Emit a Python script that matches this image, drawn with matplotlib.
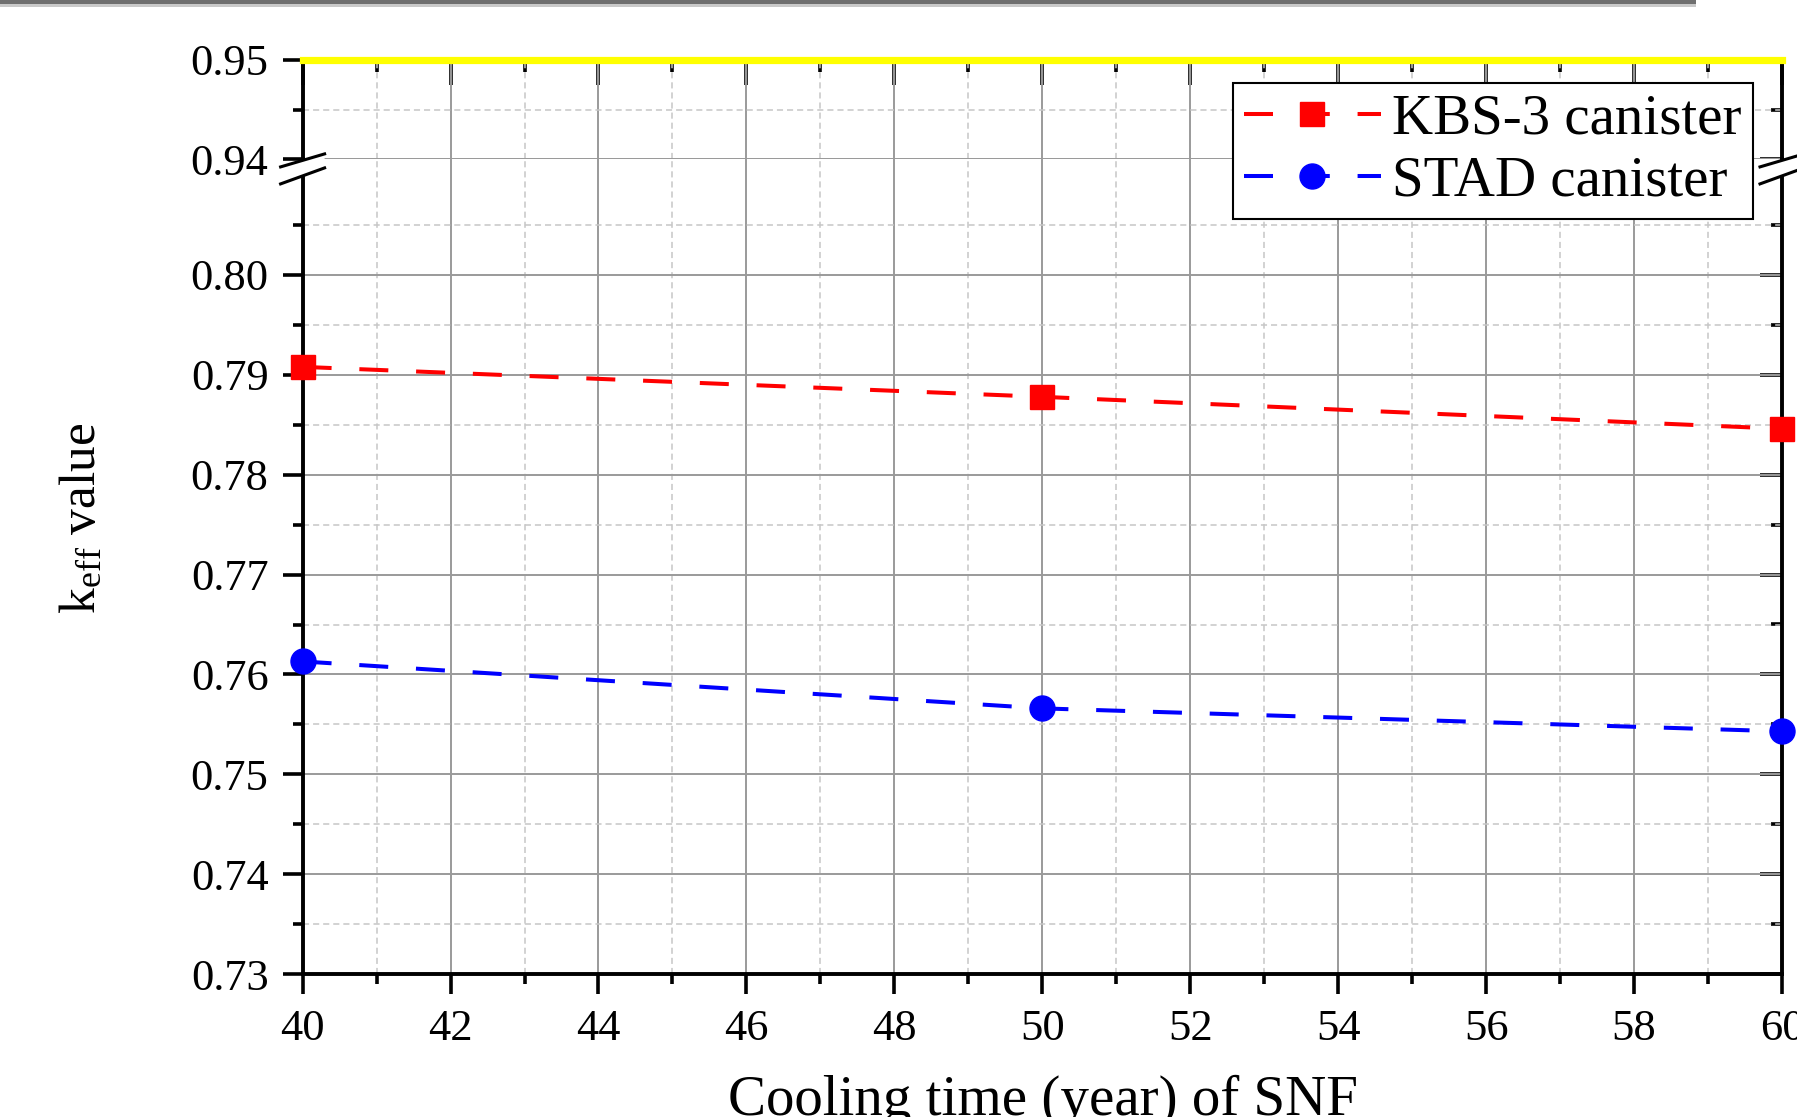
import numpy as np
import matplotlib
matplotlib.use("Agg")
import matplotlib.pyplot as plt
from matplotlib.ticker import FixedLocator, FormatStrFormatter
from matplotlib.patches import Polygon, Rectangle
from matplotlib.lines import Line2D

plt.rcParams['font.family'] = ['Liberation Serif', 'DejaVu Serif']
plt.rcParams['mathtext.fontset'] = 'custom'
plt.rcParams['mathtext.rm'] = 'Liberation Serif'
plt.rcParams['mathtext.it'] = 'Liberation Serif:italic'

# data
cooling_years = [40, 50, 60]
keff_kbs3 = [0.7908, 0.7878, 0.7846]
keff_stad = [0.7613, 0.7566, 0.7543]
label_kbs3 = 'KBS-3 canister'
label_stad = 'STAD canister'

x_major = np.arange(40, 61, 2)
x_minor = np.arange(41, 60, 2)
y_low_major = np.round(np.arange(0.73, 0.8001, 0.01), 3)
y_low_minor = np.round(np.arange(0.735, 0.8051, 0.01), 3)
y_high_major = [0.94, 0.95]
y_high_minor = [0.945]

W, H = 1797, 1117
fig = plt.figure(figsize=(W / 100, H / 100), dpi=100)

# layout (pixels from top-left)
left, right = 302.6, 1782.0
y095, y094, y073 = 59.6, 159.4, 974.0
px_per_001 = (y073 - 275.0) / 7.0

ax_top = fig.add_axes([left / W, 1 - y094 / H, (right - left) / W, (y094 - y095) / H])
ax_bot = fig.add_axes([left / W, 1 - y073 / H, (right - left) / W, (y073 - y094) / H])

ax_top.set_ylim(0.94, 0.95)
ax_bot.set_ylim(0.73, 0.73 + 0.01 * (y073 - y094) / px_per_001)

major_grid = dict(color='#9a9a9a', lw=1.4, ls='-')
minor_grid = dict(color='#c6c6c6', lw=1.1, ls=(0, (4, 2.6)))

for ax, ymaj, ymin in ((ax_top, y_high_major, y_high_minor),
                       (ax_bot, y_low_major, y_low_minor)):
    ax.set_xlim(40, 60)
    ax.xaxis.set_major_locator(FixedLocator(x_major))
    ax.xaxis.set_minor_locator(FixedLocator(x_minor))
    ax.yaxis.set_major_locator(FixedLocator(ymaj))
    ax.yaxis.set_minor_locator(FixedLocator(ymin))
    ax.yaxis.set_major_formatter(FormatStrFormatter('%.2f'))
    ax.grid(True, which='major', **major_grid)
    ax.grid(True, which='minor', **minor_grid)
    ax.tick_params(which='major', length=14.5, width=2.6, direction='out',
                   labelsize=32, pad=10, colors='black')
    ax.tick_params(which='minor', length=7.2, width=2.6, direction='out')
    for s in ax.spines.values():
        s.set_linewidth(2.8)
        s.set_color('black')

    # inward ticks on the right side
    sec = ax.secondary_yaxis('right')
    sec.yaxis.set_major_locator(FixedLocator(ymaj))
    sec.yaxis.set_minor_locator(FixedLocator(ymin))
    sec.tick_params(which='major', length=16, width=2.6, direction='in', labelright=False)
    sec.tick_params(which='minor', length=8, width=2.6, direction='in')
    for s in sec.spines.values():
        s.set_visible(False)

# top segment
ax_top.spines['bottom'].set_visible(False)
ax_top.spines['top'].set_color('#ffff00')
ax_top.spines['top'].set_linewidth(5.2)
ax_top.tick_params(axis='x', which='both', bottom=False, labelbottom=False)
ax_top.axhline(0.94, clip_on=False, zorder=1, **major_grid)
sec_top = ax_top.secondary_xaxis('top')
sec_top.xaxis.set_major_locator(FixedLocator(x_major))
sec_top.xaxis.set_minor_locator(FixedLocator(x_minor))
sec_top.tick_params(which='major', length=18, width=2.6, direction='in', labeltop=False)
sec_top.tick_params(which='minor', length=8.5, width=2.6, direction='in')
for s in sec_top.spines.values():
    s.set_visible(False)

# bottom segment
ax_bot.spines['top'].set_visible(False)
ax_bot.tick_params(axis='x', which='both', top=False)
ax_bot.tick_params(axis='x', which='major', pad=11)

ax_bot.plot(cooling_years, keff_kbs3, color='#ff0000', lw=2.9, dashes=(7.2, 6.9),
            marker='s', ms=17, mec='#ff0000', clip_on=False, zorder=4, label=label_kbs3)
ax_bot.plot(cooling_years, keff_stad, color='#0000ff', lw=2.9, dashes=(7.2, 6.9),
            marker='o', ms=18, mec='#0000ff', clip_on=False, zorder=4, label=label_stad)

# break marks on both spines
dx = 22.0 / (right - left)
u = 1.0 / (y094 - y095)
for xa in (0.0, 1.0):
    gap = Polygon([(xa - dx, -7.5 * u), (xa + dx, 5.5 * u),
                   (xa + dx, -8.5 * u), (xa - dx, -24.5 * u)],
                  closed=True, facecolor='white', edgecolor='none',
                  transform=ax_top.transAxes, zorder=6)
    fig.add_artist(gap)
    for y0, y1 in ((-7.5, 5.5), (-24.5, -8.5)):
        fig.add_artist(Line2D([xa - dx, xa + dx], [y0 * u, y1 * u], color='black',
                              lw=2.2, transform=ax_top.transAxes, zorder=7))

# legend
handles, labels = ax_bot.get_legend_handles_labels()
leg = fig.legend(handles, labels, loc='upper right',
                 bbox_to_anchor=(1753 / W, 1 - 82.5 / H), frameon=True,
                 fancybox=False, edgecolor='black', framealpha=1, fontsize=41,
                 handlelength=2.4, handletextpad=0.2, borderpad=0.2,
                 labelspacing=0.17, borderaxespad=0, numpoints=1)
leg.get_frame().set_linewidth(1.5)
leg.set_zorder(8)

# axis titles
fig.text(1043 / W, 1 - 1115 / H, 'Cooling time (year) of SNF', ha='center',
         va='baseline', fontsize=41)
fig.text(83 / W, 1 - 518 / H, r'k$_{\mathrm{eff}}$ value', rotation=90,
         ha='center', va='center', fontsize=37)

# grey bar along the top edge of the page
fig.add_artist(Rectangle((0, 1 - 7 / H), 1696 / W, 7 / H, transform=fig.transFigure,
                         facecolor='#c9c9c9', edgecolor='none', zorder=9))
fig.add_artist(Rectangle((0, 1 - 4 / H), 1696 / W, 4 / H, transform=fig.transFigure,
                         facecolor='#6f6f6f', edgecolor='none', zorder=9))

fig.savefig('out.png', dpi=100)
